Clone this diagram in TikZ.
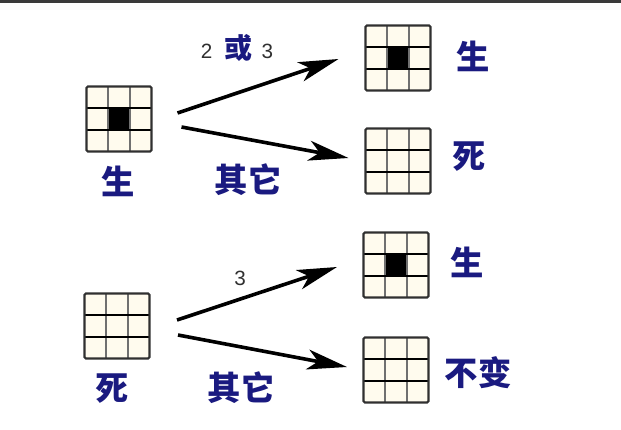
\documentclass[tikz,border=0pt]{standalone}
\usepackage{fontspec}
\newfontfamily\cjk{Noto Sans CJK SC}
\newfontfamily\digfont{Liberation Sans}
\usetikzlibrary{arrows.meta}
\definecolor{labelblue}{HTML}{1A1A80}
\definecolor{cream}{HTML}{FFFBEE}
\definecolor{gridedge}{HTML}{303030}
\definecolor{gridvert}{HTML}{707070}
\definecolor{topband}{HTML}{3A3A3A}
\definecolor{digitgray}{HTML}{303030}
\newcommand\gridlinesdraw{%
  \draw[gridvert, line width=1.9pt]
    ([shift={(-8.125pt,0pt)}]path picture bounding box.north) -- ([shift={(-8.125pt,0pt)}]path picture bounding box.south)
    ([shift={(8.125pt,0pt)}]path picture bounding box.north) -- ([shift={(8.125pt,0pt)}]path picture bounding box.south);
  \draw[black, line width=1.5pt]
    ([shift={(0pt,-8.125pt)}]path picture bounding box.west) -- ([shift={(0pt,-8.125pt)}]path picture bounding box.east)
    ([shift={(0pt,8.125pt)}]path picture bounding box.west) -- ([shift={(0pt,8.125pt)}]path picture bounding box.east);
}
\begin{document}
\begin{tikzpicture}[x=0.75pt,y=-0.75pt,
  deadgrid/.style={minimum size=48.75pt, inner sep=0pt, outer sep=0pt,
    fill=cream, draw=gridedge, line width=1.6pt, rounded corners=1pt,
    path picture={\gridlinesdraw}},
  livegrid/.style={minimum size=48.75pt, inner sep=0pt, outer sep=0pt,
    fill=cream, draw=gridedge, line width=1.6pt, rounded corners=1pt,
    path picture={%
      \fill[black] ([shift={(-8.125pt,-8.125pt)}]path picture bounding box.center)
        rectangle ([shift={(8.125pt,8.125pt)}]path picture bounding box.center);
      \gridlinesdraw}},
  cjklabel/.style={font=\cjk\bfseries\fontsize{25pt}{25pt}\selectfont, text=labelblue, inner sep=0pt},
  digitlabel/.style={font=\digfont\fontsize{15.5pt}{15.5pt}\selectfont, text=digitgray, inner sep=0pt},
  flow/.style={line width=2.7pt, black, -{Stealth[length=30pt,width=15pt,inset=8pt]}}
]
\useasboundingbox (0,0) rectangle (621,429);
\fill[white] (0,0) rectangle (621,429);
\fill[topband] (0,0) rectangle (621,3);

% top group
\node[livegrid] (alive) at (119,119) {};
\node[cjklabel] (aliveLabel) at (118,181) {生};
\node[livegrid] (aliveToLive) at (398,58) {};
\node[cjklabel] (aliveToLiveLabel) at (473,56) {生};
\node[deadgrid] (aliveToDead) at (398,161) {};
\node[cjklabel] (aliveToDeadLabel) at (469,157) {死};

\node[inner sep=0pt] (condTwoThree) at (237,48)
  {{\digfont\fontsize{15.5pt}{15.5pt}\selectfont\color{digitgray}2}\hspace{9pt}{\cjk\bfseries\fontsize{21pt}{21pt}\selectfont\color{labelblue}或}\hspace{7pt}{\digfont\fontsize{15.5pt}{15.5pt}\selectfont\color{digitgray}3}};
\node[cjklabel] (otherA) at (248,180) {其它};

\draw[flow] ([shift={(26,-6)}]alive.east) -- ([shift={(-27,1)}]aliveToLive.west);
\draw[flow] ([shift={(30,8)}]alive.east) -- ([shift={(-17,-3)}]aliveToDead.west);

% bottom group
\node[deadgrid] (dead) at (117,326) {};
\node[cjklabel] (deadLabel) at (112,389) {死};
\node[livegrid] (deadToLive) at (396,265) {};
\node[cjklabel] (deadToLiveLabel) at (467,262) {生};
\node[deadgrid] (deadStays) at (396,370) {};
\node[cjklabel] (deadStaysLabel) at (478,373) {不变};

\node[digitlabel] (condThree) at (240,278) {3};
\node[cjklabel] (otherB) at (241,388) {其它};

\draw[flow] ([shift={(27.5,-6)}]dead.east) -- ([shift={(-26.5,2)}]deadToLive.west);
\draw[flow] ([shift={(28.5,9)}]dead.east) -- ([shift={(-16.5,-3)}]deadStays.west);
\end{tikzpicture}
\end{document}
